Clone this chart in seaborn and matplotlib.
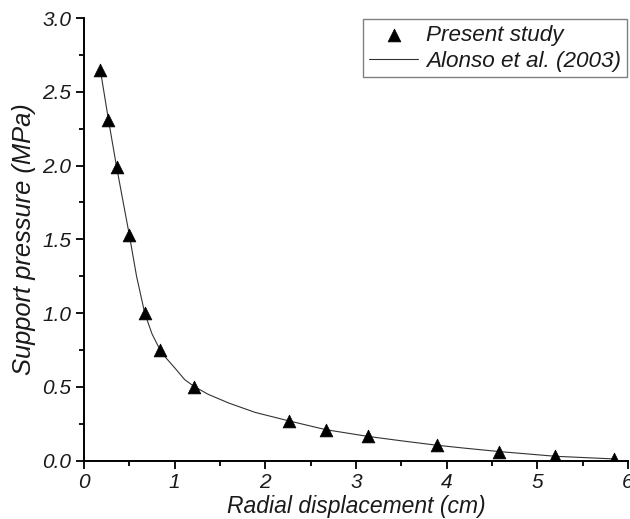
import matplotlib
matplotlib.use("Agg")
import matplotlib.pyplot as plt
import seaborn as sns
import pandas as pd
from matplotlib.ticker import MultipleLocator
from matplotlib import font_manager

# Present study (markers)
study_x = [0.18, 0.27, 0.36, 0.50, 0.67, 0.84, 1.21, 2.26, 2.67, 3.13, 3.89, 4.58, 5.20, 5.85]
study_y = [2.65, 2.31, 1.99, 1.53, 1.00, 0.75, 0.50, 0.27, 0.21, 0.165, 0.105, 0.062, 0.03, 0.012]

# Alonso et al. (2003) curve
alonso_x = [0.18, 0.27, 0.36, 0.50, 0.58, 0.67, 0.75, 0.84, 0.90, 1.00, 1.11, 1.21, 1.37, 1.60, 1.89,
            2.26, 2.67, 3.13, 3.50, 3.89, 4.20, 4.58, 5.20, 5.85]
alonso_y = [2.65, 2.31, 1.99, 1.53, 1.25, 1.00, 0.86, 0.75, 0.70, 0.63, 0.55, 0.505, 0.45, 0.39, 0.327,
            0.27, 0.21, 0.165, 0.135, 0.105, 0.085, 0.062, 0.03, 0.012]

x_ticks = [0, 1, 2, 3, 4, 5, 6]
x_tick_labels = ["0", "1", "2", "3", "4", "5", "6"]
y_ticks = [0, 0.5, 1.0, 1.5, 2.0, 2.5, 3.0]
y_tick_labels = ["0.0", "0.5", "1.0", "1.5", "2.0", "2.5", "3.0"]

x_label = "Radial displacement (cm)"
y_label = "Support pressure (MPa)"
series_study = "Present study"
series_alonso = "Alonso et al. (2003)"

sns.set_theme(style="ticks")
plt.rcParams['font.family'] = ['Liberation Sans', 'DejaVu Sans']
plt.rcParams['font.style'] = 'italic'

fig = plt.figure(figsize=(6.3, 5.19), dpi=100)
ax = fig.add_axes([0.1333, 0.1123, 0.8635, 0.853])

df_s = pd.DataFrame({"x": study_x, "y": study_y})
df_a = pd.DataFrame({"x": alonso_x, "y": alonso_y})

sns.lineplot(data=df_a, x="x", y="y", ax=ax, color="#333333", linewidth=0.8,
             label=series_alonso, sort=False, estimator=None)
sns.scatterplot(data=df_s, x="x", y="y", ax=ax, marker="^", s=85, color="black",
                edgecolor="black", linewidth=0.5, label=series_study, zorder=3)

ax.set_xlim(0, 6)
ax.set_ylim(0, 3)
ax.set_xticks(x_ticks)
ax.set_xticklabels(x_tick_labels)
ax.set_yticks(y_ticks)
ax.set_yticklabels(y_tick_labels)
ax.xaxis.set_minor_locator(MultipleLocator(0.5))
ax.yaxis.set_minor_locator(MultipleLocator(0.25))

for side in ["top", "right"]:
    ax.spines[side].set_visible(False)
for side in ["left", "bottom"]:
    ax.spines[side].set_linewidth(1.4)
    ax.spines[side].set_color("black")

ax.tick_params(which="major", direction="out", length=6, width=1.3, color="black",
               labelsize=15, pad=3, labelcolor="#1a1a1a")
ax.tick_params(which="minor", direction="out", length=3.5, width=1.3, color="black")

ax.set_xlabel(x_label, fontsize=16.5, fontstyle="italic", labelpad=2, color="#1a1a1a")
ax.set_ylabel(y_label, fontsize=18.4, fontstyle="italic", labelpad=5, color="#1a1a1a")

handles, labels = ax.get_legend_handles_labels()
order = [labels.index(series_study), labels.index(series_alonso)]
leg = ax.legend([handles[i] for i in order], [labels[i] for i in order],
                loc="upper right", bbox_to_anchor=(1.0, 1.0), borderaxespad=0.05,
                prop=font_manager.FontProperties(family=["Liberation Sans", "DejaVu Sans"],
                                                 size=16.2, style="italic"),
                frameon=True, fancybox=False, framealpha=1,
                edgecolor="#808080", handlelength=2.2, handletextpad=0.35,
                labelspacing=0.22, borderpad=0.25)
leg.get_frame().set_linewidth(1.0)
for t in leg.get_texts():
    t.set_color("#1a1a1a")

fig.savefig("out.png", dpi=100)
